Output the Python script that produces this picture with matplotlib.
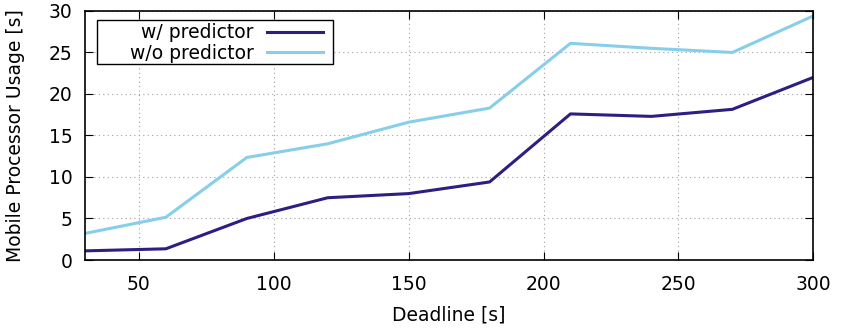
import matplotlib
matplotlib.use('Agg')
import matplotlib.pyplot as plt
from matplotlib.patches import Rectangle

# deadlines and mobile processor usage
deadline = [30, 60, 90, 120, 150, 180, 210, 240, 270, 300]
with_pred = [1.1, 1.35, 5.0, 7.5, 8.0, 9.4, 17.6, 17.3, 18.15, 22.0]
without_pred = [3.2, 5.15, 12.35, 14.0, 16.6, 18.3, 26.1, 25.5, 25.0, 29.4]

plt.rcParams['font.family'] = ['DejaVu Sans']
fs = 13.5

fig = plt.figure(figsize=(8.41, 3.29), dpi=100)
ax = fig.add_axes([0.101, 0.2097, 0.866, 0.757])

ax.plot(deadline, with_pred, color='#2e1e84', lw=2.2, label='w/ predictor')
ax.plot(deadline, without_pred, color='#87ceeb', lw=2.2, label='w/o predictor')

ax.set_xlim(30, 300)
ax.set_ylim(0, 30)
ax.set_xticks([50, 100, 150, 200, 250, 300])
ax.set_yticks([0, 5, 10, 15, 20, 25, 30])
ax.grid(True, color='#a0a0a0', linestyle=(0, (1, 3)), lw=0.8)
ax.tick_params(direction='in', top=True, right=True, length=6, labelsize=fs)
ax.tick_params(axis='x', pad=11)
ax.tick_params(axis='y', pad=9)
for s in ax.spines.values():
    s.set_linewidth(1.2)

ax.set_xlabel('Deadline [s]', fontsize=fs, labelpad=8)
ax.set_ylabel('Mobile Processor Usage [s]', fontsize=fs, labelpad=17)

# legend: keys on the right, text right aligned, box drawn by hand
leg = ax.legend(loc='center right', bbox_to_anchor=(0.327, 0.871), fontsize=fs,
                markerfirst=False, frameon=False, borderpad=0,
                labelspacing=0.08, handlelength=3.0, handletextpad=0.7,
                borderaxespad=0)
for t in leg.get_texts():
    t.set_ha('right')
leg._legend_box.align = 'right'
ax.add_patch(Rectangle((0.0165, 0.787), 0.3245, 0.177, transform=ax.transAxes,
                       fill=True, facecolor='white', edgecolor='black',
                       lw=1.0, zorder=4))
leg.set_zorder(5)

fig.savefig('out.png', dpi=100)
